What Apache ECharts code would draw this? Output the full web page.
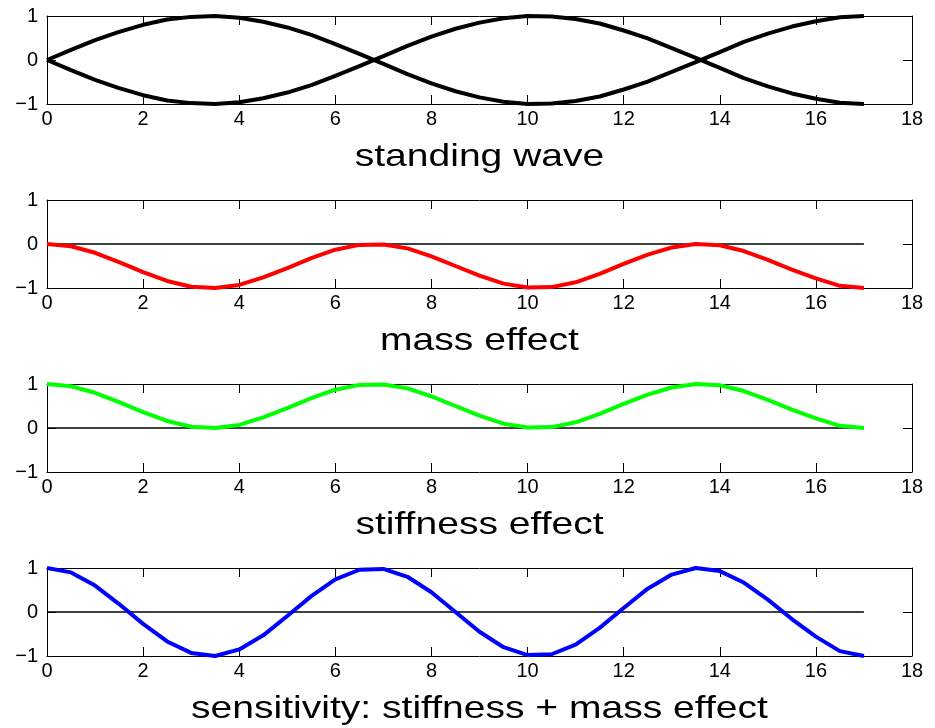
<!DOCTYPE html>
<html>
<head>
<meta charset="utf-8">
<script src="https://cdn.jsdelivr.net/npm/echarts@6/dist/echarts.min.js"></script>
<style>
html,body{margin:0;padding:0;background:#fff;}
#chart{width:935px;height:728px;}
</style>
</head>
<body>
<div id="chart"></div>
<script>
// ---- data ----
var xValues = [0,0.5,1,1.5,2,2.5,3,3.5,4,4.5,5,5.5,6,6.5,7,7.5,8,8.5,9,9.5,10,10.5,11,11.5,12,12.5,13,13.5,14,14.5,15,15.5,16,16.5,17];
var standingUpper = [0,0.23,0.45,0.64,0.80,0.92,0.98,1.00,0.96,0.87,0.74,0.57,0.36,0.14,-0.09,-0.32,-0.53,-0.71,-0.85,-0.95,-1.00,-0.99,-0.93,-0.83,-0.67,-0.49,-0.27,-0.05,0.18,0.41,0.60,0.76,0.88,0.97,1.00];
var standingLower = [0,-0.23,-0.45,-0.64,-0.80,-0.92,-0.98,-1.00,-0.96,-0.87,-0.74,-0.57,-0.36,-0.14,0.09,0.32,0.53,0.71,0.85,0.95,1.00,0.99,0.93,0.83,0.67,0.49,0.27,0.05,-0.18,-0.41,-0.60,-0.76,-0.88,-0.97,-1.00];
var massEffect = [0,-0.05,-0.20,-0.41,-0.64,-0.84,-0.97,-1.00,-0.93,-0.76,-0.55,-0.32,-0.13,-0.02,-0.01,-0.10,-0.28,-0.50,-0.72,-0.90,-0.99,-0.98,-0.87,-0.68,-0.45,-0.24,-0.08,0.00,-0.03,-0.16,-0.36,-0.58,-0.78,-0.95,-1.00];
var stiffnessEffect = [1.00,0.95,0.80,0.59,0.36,0.16,0.03,0.00,0.07,0.24,0.45,0.68,0.87,0.98,0.99,0.90,0.72,0.50,0.28,0.10,0.01,0.02,0.13,0.32,0.55,0.76,0.92,1.00,0.97,0.84,0.64,0.42,0.22,0.05,0.00];
var sensitivity = [1.00,0.90,0.60,0.18,-0.27,-0.67,-0.93,-1.00,-0.85,-0.53,-0.09,0.36,0.74,0.96,0.98,0.80,0.45,0.00,-0.45,-0.80,-0.98,-0.96,-0.74,-0.36,0.09,0.53,0.85,1.00,0.93,0.67,0.28,-0.16,-0.56,-0.89,-1.00];
var zeroLineX = [0,17];
var xTicks = {min:0, max:18, interval:2};
var yTicks = {min:-1, max:1, interval:1};
var panelTitles = ['standing wave','mass effect','stiffness effect','sensitivity: stiffness + mass effect'];

function pairs(xs, ys){ return xs.map(function(x,i){ return [x, ys[i]]; }); }

var panelTops = [16, 200, 384, 568];
var panelHeight = 88;
var gridLeft = 47, gridWidth = 865;
var FONT = '"Liberation Sans", Arial, Helvetica, sans-serif';

var grids = [], xAxes = [], yAxes = [], series = [], graphics = [];

panelTops.forEach(function(top, p){
  grids.push({left: gridLeft, top: top, width: gridWidth, height: panelHeight, containLabel:false});
  var axisLine = {show:true, onZero:false, lineStyle:{color:'#000', width:1}};
  var tick = {show:true, inside:true, length:9, lineStyle:{color:'#000', width:1}};
  xAxes.push({type:'value', gridIndex:p, position:'bottom', min:xTicks.min, max:xTicks.max, interval:xTicks.interval,
    axisLine:axisLine, axisTick:tick, splitLine:{show:false},
    axisLabel:{show:true, color:'#000', fontSize:20, fontFamily:FONT, margin:5, showMinLabel:true, showMaxLabel:true}});
  xAxes.push({type:'value', gridIndex:p, position:'top', min:xTicks.min, max:xTicks.max, interval:xTicks.interval,
    axisLine:axisLine, axisTick:tick, splitLine:{show:false}, axisLabel:{show:false}});
  yAxes.push({type:'value', gridIndex:p, position:'left', min:yTicks.min, max:yTicks.max, interval:yTicks.interval,
    axisLine:axisLine, axisTick:tick, splitLine:{show:false},
    axisLabel:{show:true, color:'#000', fontSize:20, fontFamily:FONT, margin:9,
      formatter:function(v){ return String(v).replace('-', '\u2212'); }}});
  yAxes.push({type:'value', gridIndex:p, position:'right', min:yTicks.min, max:yTicks.max, interval:yTicks.interval,
    axisLine:axisLine, axisTick:tick, splitLine:{show:false}, axisLabel:{show:false}});

  graphics.push({type:'text', x: gridLeft + gridWidth/2, y: top + panelHeight + 53, scaleX:1.22, scaleY:1,
    style:{text: panelTitles[p], fill:'#000', font:'32px ' + FONT, textAlign:'center', textVerticalAlign:'middle'}});
});

function lineSeries(p, data, color, width){
  return {type:'line', xAxisIndex:p*2, yAxisIndex:p*2, data:data, showSymbol:false, symbol:'none',
    clip:false, animation:false, silent:true, lineStyle:{color:color, width:width}, itemStyle:{color:color}};
}

// panel 1: standing wave
series.push(lineSeries(0, pairs(xValues, standingUpper), '#000', 4));
series.push(lineSeries(0, pairs(xValues, standingLower), '#000', 4));
// panel 2: mass effect
series.push(lineSeries(1, pairs(zeroLineX, [0,0]), '#000', 1.3));
series.push(lineSeries(1, pairs(xValues, massEffect), '#ff0000', 4));
// panel 3: stiffness effect
series.push(lineSeries(2, pairs(zeroLineX, [0,0]), '#000', 1.3));
series.push(lineSeries(2, pairs(xValues, stiffnessEffect), '#00ff00', 4));
// panel 4: sensitivity
series.push(lineSeries(3, pairs(zeroLineX, [0,0]), '#000', 1.3));
series.push(lineSeries(3, pairs(xValues, sensitivity), '#0000ff', 4));

var chart = echarts.init(document.getElementById('chart'), null, {renderer:'canvas'});
chart.setOption({
  backgroundColor:'#fff',
  animation:false,
  grid:grids, xAxis:xAxes, yAxis:yAxes, series:series, graphic:graphics
});
</script>
</body>
</html>
